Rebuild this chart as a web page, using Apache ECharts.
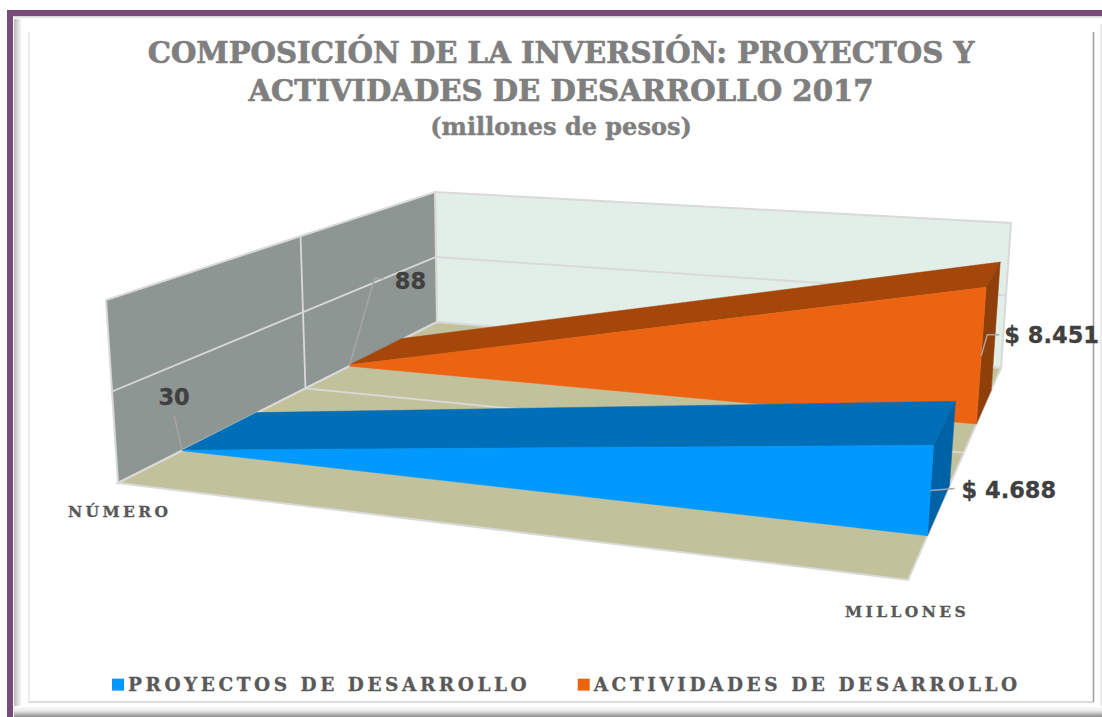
<!DOCTYPE html>
<html><head><meta charset="utf-8">
<style>
html,body{margin:0;padding:0;background:#fff}
#main{width:1102px;height:717px}
text[fill="#595959"]{letter-spacing:3.55px}
text[fill="#585858"]{letter-spacing:3.4px}
</style>
<script src="https://cdn.jsdelivr.net/npm/echarts@6/dist/echarts.min.js"></script>
</head><body><div id="main"></div>
<script>
const categories = ['NÚMERO', 'MILLONES'];
const proyectos = [30, 4688];
const actividades = [88, 8451];
const yTicks = [0, 5000, 10000];
const titleLines = 'COMPOSICIÓN DE LA INVERSIÓN: PROYECTOS Y\nACTIVIDADES DE DESARROLLO 2017';
const subtitle = '(millones de pesos)';
const seriesNames = ['PROYECTOS DE DESARROLLO', 'ACTIVIDADES DE DESARROLLO'];

// Perspective box of the 3D chart: pixel corners (front-left, front-right, back-right, back-left)
const FLOOR = [[118,483],[908,580],[1001,368],[437,322]];
const CEIL  = [[106,300],[921,376],[1011,223],[435,192]];
const DEPTH = {blue:[0.15,0.35], orange:[0.65,0.85]};

function homography(q){
  const [p0,p1,p2,p3]=q;
  const dx1=p1[0]-p2[0], dx2=p3[0]-p2[0], sx=p0[0]-p1[0]+p2[0]-p3[0];
  const dy1=p1[1]-p2[1], dy2=p3[1]-p2[1], sy=p0[1]-p1[1]+p2[1]-p3[1];
  const den=dx1*dy2-dx2*dy1;
  const g=(sx*dy2-dx2*sy)/den, h=(dx1*sy-sx*dy1)/den;
  const a=p1[0]-p0[0]+g*p1[0], b=p3[0]-p0[0]+h*p3[0], c=p0[0];
  const d=p1[1]-p0[1]+g*p1[1], e=p3[1]-p0[1]+h*p3[1], f=p0[1];
  return (u,v)=>{const w=g*u+h*v+1;return [(a*u+b*v+c)/w,(d*u+e*v+f)/w];};
}
const floorH=homography(FLOOR), ceilH=homography(CEIL);
function project(u,v,t){
  const b=floorH(u,v), c=ceilH(u,v);
  return [b[0]+(c[0]-b[0])*t, b[1]+(c[1]-b[1])*t];
}
// Turn axis values into unit coordinates through the grid's own scales
function unit(params,api,cat,val){
  const p=api.coord([cat,val]), r=params.coordSys;
  return [(p[0]-r.x)/r.width, (r.y+r.height-p[1])/r.height];
}
function poly(points,fill,z2){
  return {type:'polygon',z2:z2||0,shape:{points},style:{fill,stroke:fill,lineWidth:0.5}};
}
function line(points,color,w){
  return {type:'polyline',shape:{points},style:{stroke:color,lineWidth:w,fill:'none'}};
}
function label(text,x,y,align,fill,font,border){
  return {type:'text',x,y,style:{text,fill,font,align:align,verticalAlign:'middle',
    stroke:fill,lineWidth:border||0}};
}
function fmtMoney(v){ return '$ '+String(v).replace(/\B(?=(\d{3})+$)/g,'.'); }

const VAL_FONT='bold 22.5px "DejaVu Sans"';
const CAT_FONT='bold 15.5px "DejaVu Serif"';
const LEADER='#A6A6A6';

function areaRenderer(values,depth,cols,labels){
  return function(params,api){
    const i=params.dataIndex, ch=[];
    const [vf,vb]=depth;
    if(i<values.length-1){
      const a=unit(params,api,i,values[i]), b=unit(params,api,i+1,values[i+1]);
      const fa0=project(a[0],vf,0), fa1=project(a[0],vf,a[1]);
      const fb0=project(b[0],vf,0), fb1=project(b[0],vf,b[1]);
      const ba1=project(a[0],vb,a[1]), bb1=project(b[0],vb,b[1]), bb0=project(b[0],vb,0);
      ch.push(poly([fa1,ba1,bb1,fb1],cols.top));
      ch.push(poly([fb1,bb1,bb0,fb0],cols.side));
      ch.push(poly([fa0,fa1,fb1,fb0],cols.front));
    }
    const p=unit(params,api,i,values[i]);
    const anchor=project(p[0],vf,p[1]/2);
    const l=labels[i];
    const pts=[anchor].concat(l.leader.map(o=>[anchor[0]+o[0],anchor[1]+o[1]]));
    ch.push(line(pts,LEADER,1.5));
    ch.push(label(i===0?String(values[i]):fmtMoney(values[i]),anchor[0]+l.tx,anchor[1]+l.ty,l.align,'#404040',VAL_FONT,0.3));
    return {type:'group',children:ch};
  };
}

function boxRenderer(params,api){
  const ch=[];
  const hOf=v=>unit(params,api,0,v)[1];
  const uOf=c=>unit(params,api,c,0)[0];
  const u0=uOf(0),u1=uOf(1);
  const leftWall=[project(u0,0,0),project(u0,0,1),project(u0,1,1),project(u0,1,0)];
  const backWall=[project(u0,1,0),project(u0,1,1),project(u1,1,1),project(u1,1,0)];
  const floor=[project(u0,0,0),project(u1,0,0),project(u1,1,0),project(u0,1,0)];
  const edge='#D9D9D9';
  ch.push({type:'polygon',shape:{points:backWall},style:{fill:'#E1EFE8',stroke:edge,lineWidth:2}});
  ch.push({type:'polygon',shape:{points:leftWall},style:{fill:'#8E9693',stroke:edge,lineWidth:2}});
  ch.push({type:'polygon',shape:{points:floor},style:{fill:'#C1C19B',stroke:edge,lineWidth:2}});
  yTicks.slice(1,-1).forEach(t=>{
    const h=hOf(t);
    ch.push(line([project(u0,0,h),project(u0,1,h),project(u1,1,h)],edge,1.8));
  });
  // depth divider between the two series slots
  ch.push(line([project(u0,0.5,1),project(u0,0.5,0),project(u1,0.5,0)],edge,1.8));
  // category axis names
  ch.push(label(categories[0],68,511,'left','#585858',CAT_FONT,0.3));
  ch.push(label(categories[1],845,611,'left','#585858',CAT_FONT,0.3));
  return {type:'group',children:ch};
}

const blueCols={front:'#0099FF',top:'#006FB8',side:'#0062A6'};
const orangeCols={front:'#EC6412',top:'#A5460A',side:'#8F3F0A'};
const blueLabels=[
  {leader:[[-8,-35]],tx:-8,ty:-53,align:'center'},
  {leader:[[24,-2]],tx:31,ty:0,align:'left'}
];
const orangeLabels=[
  {leader:[[25,-87],[34,-87]],tx:61,ty:-85,align:'center'},
  {leader:[[6,-21],[18,-21]],tx:23,ty:-21,align:'left'}
];

const frame=[
  {type:'rect',shape:{x:14,y:16,width:8,height:690},style:{fill:{type:'linear',x:0,y:0,x2:1,y2:0,colorStops:[{offset:0,color:'#B8B8B8'},{offset:1,color:'#FFFFFF'}]}}},
  {type:'rect',shape:{x:13,y:16,width:1089,height:3},style:{fill:{type:'linear',x:0,y:0,x2:0,y2:1,colorStops:[{offset:0,color:'#D0D0D0'},{offset:1,color:'#FFFFFF'}]}}},
  {type:'rect',shape:{x:14,y:706,width:1088,height:11},style:{fill:{type:'linear',x:0,y:0,x2:0,y2:1,colorStops:[{offset:0,color:'#FFFFFF'},{offset:0.45,color:'#E8E8E8'},{offset:1,color:'#8C8C8C'}]}}},
  {type:'rect',shape:{x:7,y:10,width:6,height:707},style:{fill:'#7A4A78'}},
  {type:'rect',shape:{x:7,y:10,width:1095,height:6},style:{fill:'#7A4A78'}},
  {type:'line',shape:{x1:29,y1:32,x2:29,y2:702},style:{stroke:'#E6E6E6',lineWidth:1.5}},
  {type:'line',shape:{x1:29,y1:702,x2:1094,y2:702},style:{stroke:'#D0D0D0',lineWidth:1.5}},
  {type:'line',shape:{x1:1093.5,y1:32,x2:1093.5,y2:702},style:{stroke:'#A0A0A0',lineWidth:1.5}},
  {type:'line',shape:{x1:1101,y1:24,x2:1101,y2:706},style:{stroke:'#E6E6E6',lineWidth:1.5}}
];

const chart=echarts.init(document.getElementById('main'),null,{renderer:'svg'});
chart.setOption({
  animation:false,
  backgroundColor:'#FFFFFF',
  graphic:{elements:frame.map(e=>Object.assign({silent:true,z:0},e))},
  title:[
    {text:titleLines,left:556,top:29,textAlign:'center',textStyle:{fontFamily:'DejaVu Serif',fontWeight:'bold',fontSize:29.2,color:'#7F7F7F',lineHeight:38,textBorderColor:'#7F7F7F',textBorderWidth:0.7}},
    {text:subtitle,left:556,top:107,textAlign:'center',textStyle:{fontFamily:'DejaVu Serif',fontWeight:'bold',fontSize:24,color:'#7F7F7F',lineHeight:28,textBorderColor:'#7F7F7F',textBorderWidth:0.4}}
  ],
  legend:{
    data:seriesNames,left:107,top:670,itemWidth:12,itemHeight:12,itemGap:129,icon:'rect',
    textStyle:{fontFamily:'DejaVu Serif',fontWeight:'bold',fontSize:18.5,color:'#595959',padding:[0,0,0,-1],textBorderColor:'#595959',textBorderWidth:0.3}
  },
  grid:{left:118,top:192,width:790,height:291,show:false},
  xAxis:{type:'category',data:categories,boundaryGap:false,show:false},
  yAxis:{type:'value',min:0,max:10000,interval:5000,show:false},
  series:[
    {type:'custom',name:'box',silent:true,z:1,data:[[0,0]],encode:{x:0,y:1},renderItem:boxRenderer},
    {type:'custom',name:seriesNames[1],z:2,itemStyle:{color:orangeCols.front},
     data:actividades.map((v,i)=>[i,v]),encode:{x:0,y:1},renderItem:areaRenderer(actividades,DEPTH.orange,orangeCols,orangeLabels)},
    {type:'custom',name:seriesNames[0],z:3,itemStyle:{color:blueCols.front},
     data:proyectos.map((v,i)=>[i,v]),encode:{x:0,y:1},renderItem:areaRenderer(proyectos,DEPTH.blue,blueCols,blueLabels)}
  ]
});
</script></body></html>
